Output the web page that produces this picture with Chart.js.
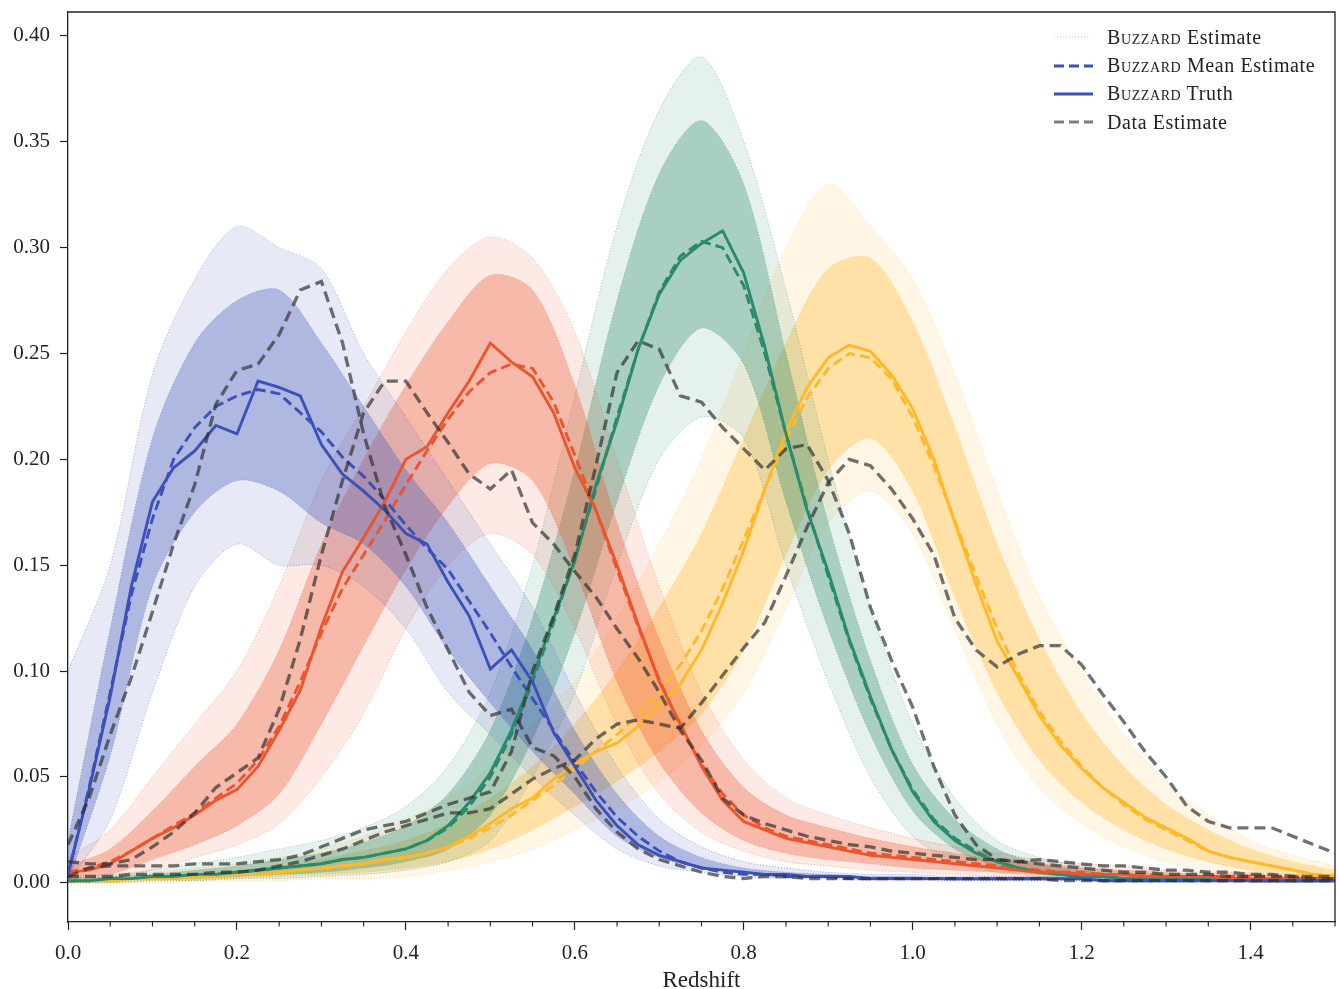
<!DOCTYPE html>
<html lang="en">
  <head>
    <meta charset="UTF-8" />
    <title>Redshift distributions</title>
    <script src="https://cdn.jsdelivr.net/npm/chart.js@4.4.0/dist/chart.umd.min.js"></script>
    <style>
      body {
        margin: 0;
        background: #fff;
        overflow: hidden;
        font-family: "Liberation Serif", serif;
      }
      #wrap {
        position: relative;
        width: 1339px;
        height: 989px;
      }
      #legend {
        position: absolute;
        left: 1052px;
        top: 23px;
        font-size: 20px;
        letter-spacing: 0.6px;
        color: #222;
      }
      .row {
        height: 28.4px;
        display: flex;
        align-items: center;
      }
      .row svg {
        width: 42px;
        height: 10px;
        margin-right: 13px;
      }
      .sc {
        font-variant: small-caps;
      }
    </style>
  </head>
  <body>
    <div id="wrap">
      <canvas id="c" width="1339" height="989"></canvas>
      <div id="legend">
        <div class="row">
          <svg><line x1="2" y1="5" x2="41" y2="5" stroke="rgba(60,80,185,0.35)" stroke-width="1" stroke-dasharray="1 2" /></svg>
          <span><span class="sc">Buzzard</span> Estimate</span>
        </div>
        <div class="row">
          <svg><line x1="2" y1="5" x2="41" y2="5" stroke="rgb(60,80,185)" stroke-width="3" stroke-dasharray="10 5" /></svg>
          <span><span class="sc">Buzzard</span> Mean Estimate</span>
        </div>
        <div class="row">
          <svg><line x1="2" y1="5" x2="41" y2="5" stroke="rgb(60,80,185)" stroke-width="3" /></svg>
          <span><span class="sc">Buzzard</span> Truth</span>
        </div>
        <div class="row">
          <svg><line x1="2" y1="5" x2="41" y2="5" stroke="rgba(45,45,45,0.62)" stroke-width="3" stroke-dasharray="10 5" /></svg>
          <span>Data Estimate</span>
        </div>
      </div>
    </div>

    <script>
      // redshift grid for the main curves (step 0.025)
      const zFine = [
        0, 0.025, 0.05, 0.075, 0.1, 0.125, 0.15, 0.175, 0.2, 0.225,
        0.25, 0.275, 0.3, 0.325, 0.35, 0.375, 0.4, 0.425, 0.45, 0.475,
        0.5, 0.525, 0.55, 0.575, 0.6, 0.625, 0.65, 0.675, 0.7, 0.725,
        0.75, 0.775, 0.8, 0.825, 0.85, 0.875, 0.9, 0.925, 0.95, 0.975,
        1.0, 1.025, 1.05, 1.075, 1.1, 1.125, 1.15, 1.175, 1.2, 1.225,
        1.25, 1.275, 1.3, 1.325, 1.35, 1.375, 1.4, 1.425, 1.45, 1.475,
        1.5,
      ];
      // coarser grid for the spread of the Buzzard estimates
      const zBand = [
        0, 0.05, 0.1, 0.15, 0.2, 0.25, 0.3, 0.35, 0.4, 0.45, 0.5, 0.55,
        0.6, 0.65, 0.7, 0.75, 0.8, 0.85, 0.9, 0.95, 1.0, 1.05, 1.1, 1.15,
        1.2, 1.25, 1.3, 1.35, 1.4, 1.45, 1.5,
      ];

      const xTicks = [0, 0.2, 0.4, 0.6, 0.8, 1.0, 1.2, 1.4];
      const xMinorTicks = [
        0.05, 0.1, 0.15, 0.25, 0.3, 0.35, 0.45, 0.5, 0.55, 0.65, 0.7, 0.75,
        0.85, 0.9, 0.95, 1.05, 1.1, 1.15, 1.25, 1.3, 1.35, 1.45, 1.5,
      ];
      const yTicks = [0, 0.05, 0.1, 0.15, 0.2, 0.25, 0.3, 0.35, 0.4];

      // truth
      const blueTruth = [
        0.004, 0.044, 0.088, 0.140, 0.180, 0.196, 0.204, 0.216, 0.212, 0.237,
        0.234, 0.230, 0.207, 0.193, 0.185, 0.176, 0.165, 0.160, 0.142, 0.126,
        0.101, 0.110, 0.095, 0.071, 0.055, 0.039, 0.027, 0.018, 0.013, 0.010,
        0.007, 0.006, 0.005, 0.004, 0.004, 0.003, 0.003, 0.003, 0.002, 0.002,
        0.002, 0.002, 0.002, 0.002, 0.002, 0.002, 0.002, 0.002, 0.002, 0.001,
        0.001, 0.001, 0.001, 0.001, 0.001, 0.001, 0.001, 0.001, 0.001, 0.001,
        0.001,
      ];
      const redTruth = [
        0.005, 0.006, 0.009, 0.015, 0.021, 0.026, 0.032, 0.039, 0.044, 0.055,
        0.072, 0.091, 0.121, 0.147, 0.163, 0.180, 0.200, 0.206, 0.222, 0.237,
        0.255, 0.246, 0.239, 0.222, 0.196, 0.176, 0.150, 0.122, 0.095, 0.075,
        0.055, 0.039, 0.029, 0.025, 0.021, 0.019, 0.017, 0.015, 0.013, 0.012,
        0.011, 0.010, 0.009, 0.008, 0.007, 0.006, 0.005, 0.005, 0.004, 0.004,
        0.004, 0.003, 0.003, 0.003, 0.003, 0.002, 0.002, 0.002, 0.002, 0.002,
        0.002,
      ];
      const greenTruth = [
        0.001, 0.001, 0.002, 0.002, 0.003, 0.003, 0.004, 0.004, 0.005, 0.006,
        0.007, 0.008, 0.009, 0.011, 0.012, 0.014, 0.016, 0.020, 0.027, 0.038,
        0.052, 0.072, 0.097, 0.125, 0.152, 0.188, 0.218, 0.252, 0.278, 0.294,
        0.302, 0.308, 0.288, 0.253, 0.212, 0.176, 0.147, 0.115, 0.088, 0.063,
        0.043, 0.029, 0.020, 0.014, 0.010, 0.007, 0.005, 0.004, 0.003, 0.003,
        0.002, 0.002, 0.002, 0.002, 0.002, 0.002, 0.001, 0.001, 0.001, 0.001,
        0.001,
      ];
      const yellowTruth = [
        0.001, 0.001, 0.001, 0.002, 0.002, 0.002, 0.003, 0.003, 0.004, 0.004,
        0.005, 0.006, 0.007, 0.008, 0.009, 0.011, 0.012, 0.014, 0.017, 0.022,
        0.028, 0.035, 0.040, 0.049, 0.056, 0.062, 0.066, 0.074, 0.084, 0.094,
        0.110, 0.132, 0.157, 0.186, 0.213, 0.234, 0.248, 0.254, 0.251, 0.240,
        0.224, 0.200, 0.170, 0.141, 0.114, 0.097, 0.079, 0.065, 0.054, 0.045,
        0.038, 0.031, 0.026, 0.021, 0.015, 0.012, 0.010, 0.008, 0.006, 0.004,
        0.003,
      ];

      // mean of the Buzzard estimates
      const blueMean = [
        0.004, 0.045, 0.090, 0.136, 0.172, 0.200, 0.215, 0.225, 0.230, 0.233,
        0.231, 0.222, 0.213, 0.201, 0.192, 0.181, 0.169, 0.158, 0.148, 0.133,
        0.118, 0.102, 0.087, 0.072, 0.057, 0.043, 0.031, 0.022, 0.015, 0.010,
        0.007, 0.005, 0.004, 0.004, 0.003, 0.003, 0.003, 0.002, 0.002, 0.002,
        0.002, 0.002, 0.002, 0.002, 0.002, 0.002, 0.002, 0.002, 0.002, 0.001,
        0.001, 0.001, 0.001, 0.001, 0.001, 0.001, 0.001, 0.001, 0.001, 0.001,
        0.001,
      ];
      const redMean = [
        0.005, 0.007, 0.010, 0.015, 0.021, 0.027, 0.033, 0.040, 0.047, 0.058,
        0.074, 0.095, 0.118, 0.139, 0.155, 0.171, 0.188, 0.204, 0.219, 0.232,
        0.241, 0.245, 0.243, 0.227, 0.202, 0.176, 0.148, 0.121, 0.096, 0.074,
        0.056, 0.042, 0.032, 0.026, 0.022, 0.020, 0.018, 0.016, 0.014, 0.013,
        0.012, 0.011, 0.010, 0.009, 0.008, 0.007, 0.006, 0.005, 0.005, 0.004,
        0.004, 0.004, 0.003, 0.003, 0.003, 0.003, 0.003, 0.002, 0.002, 0.002,
        0.002,
      ];
      const greenMean = [
        0.001, 0.001, 0.002, 0.002, 0.003, 0.003, 0.004, 0.004, 0.005, 0.006,
        0.007, 0.008, 0.009, 0.011, 0.012, 0.014, 0.016, 0.020, 0.026, 0.036,
        0.050, 0.070, 0.095, 0.123, 0.153, 0.186, 0.220, 0.252, 0.279, 0.296,
        0.303, 0.300, 0.282, 0.250, 0.212, 0.177, 0.145, 0.114, 0.087, 0.063,
        0.044, 0.030, 0.021, 0.015, 0.010, 0.007, 0.005, 0.004, 0.003, 0.003,
        0.002, 0.002, 0.002, 0.002, 0.002, 0.002, 0.001, 0.001, 0.001, 0.001,
        0.001,
      ];
      const yellowMean = [
        0.001, 0.001, 0.001, 0.002, 0.002, 0.002, 0.003, 0.003, 0.004, 0.004,
        0.005, 0.006, 0.007, 0.008, 0.009, 0.011, 0.012, 0.014, 0.017, 0.021,
        0.026, 0.032, 0.039, 0.046, 0.054, 0.062, 0.070, 0.079, 0.090, 0.103,
        0.119, 0.139, 0.162, 0.186, 0.209, 0.229, 0.243, 0.250, 0.248, 0.238,
        0.220, 0.197, 0.171, 0.145, 0.120, 0.099, 0.081, 0.067, 0.055, 0.045,
        0.037, 0.030, 0.025, 0.020, 0.015, 0.012, 0.010, 0.008, 0.006, 0.004,
        0.003,
      ];

      // data estimates, one per bin
      const dataBin1 = [
        0.018, 0.040, 0.070, 0.097, 0.128, 0.160, 0.188, 0.226, 0.242, 0.245,
        0.259, 0.280, 0.284, 0.255, 0.212, 0.178, 0.155, 0.130, 0.110, 0.090,
        0.079, 0.082, 0.064, 0.060, 0.050, 0.035, 0.024, 0.016, 0.011, 0.008,
        0.005, 0.003, 0.002, 0.003, 0.003, 0.002, 0.002, 0.002, 0.002, 0.002,
        0.002, 0.002, 0.002, 0.002, 0.002, 0.002, 0.002, 0.001, 0.001, 0.001,
        0.001, 0.001, 0.001, 0.001, 0.001, 0.001, 0.001, 0.001, 0.001, 0.001,
        0.001,
      ];
      const dataBin2 = [
        0.010, 0.009, 0.009, 0.011, 0.017, 0.024, 0.033, 0.045, 0.052, 0.059,
        0.082, 0.115, 0.155, 0.190, 0.222, 0.237, 0.237, 0.222, 0.208, 0.193,
        0.186, 0.195, 0.170, 0.160, 0.147, 0.135, 0.120, 0.106, 0.090, 0.072,
        0.058, 0.040, 0.032, 0.028, 0.025, 0.022, 0.020, 0.018, 0.017, 0.015,
        0.014, 0.013, 0.012, 0.011, 0.011, 0.010, 0.009, 0.008, 0.007, 0.006,
        0.005, 0.005, 0.004, 0.004, 0.004, 0.003, 0.003, 0.003, 0.003, 0.002,
        0.002,
      ];
      const dataBin3 = [
        0.003, 0.007, 0.008, 0.008, 0.008, 0.008, 0.009, 0.009, 0.009, 0.010,
        0.011, 0.013, 0.017, 0.021, 0.025, 0.027, 0.029, 0.033, 0.037, 0.040,
        0.043, 0.062, 0.100, 0.126, 0.155, 0.197, 0.241, 0.256, 0.252, 0.230,
        0.227, 0.215, 0.205, 0.195, 0.205, 0.207, 0.190, 0.165, 0.130, 0.105,
        0.083, 0.055, 0.032, 0.018, 0.011, 0.010, 0.011, 0.010, 0.009, 0.008,
        0.008, 0.007, 0.006, 0.006, 0.005, 0.005, 0.004, 0.004, 0.003, 0.003,
        0.003,
      ];
      const dataBin4 = [
        0.003, 0.003, 0.003, 0.004, 0.004, 0.004, 0.004, 0.005, 0.005, 0.006,
        0.008, 0.010, 0.013, 0.016, 0.020, 0.024, 0.027, 0.030, 0.033, 0.033,
        0.035, 0.042, 0.049, 0.054, 0.058, 0.068, 0.075, 0.077, 0.075, 0.073,
        0.085, 0.098, 0.111, 0.123, 0.145, 0.168, 0.189, 0.200, 0.197, 0.186,
        0.172, 0.155, 0.125, 0.110, 0.102, 0.108, 0.112, 0.112, 0.103, 0.089,
        0.076, 0.062, 0.050, 0.036, 0.029, 0.026, 0.026, 0.026, 0.022, 0.018,
        0.014,
      ];

      // spread of the individual Buzzard estimates: dense core and faint outliers
      const blueHi = [0.020, 0.120, 0.210, 0.255, 0.275, 0.280, 0.255, 0.225, 0.195, 0.170, 0.140, 0.110, 0.072, 0.042, 0.022, 0.012, 0.007, 0.005, 0.004, 0.003, 0.003, 0.002, 0.002, 0.002, 0.002, 0.002, 0.002, 0.002, 0.002, 0.002, 0.002];
      const blueLo = [0.000, 0.060, 0.140, 0.175, 0.190, 0.185, 0.170, 0.160, 0.140, 0.110, 0.085, 0.062, 0.042, 0.022, 0.012, 0.007, 0.005, 0.003, 0.003, 0.002, 0.002, 0.001, 0.001, 0.001, 0.001, 0.001, 0.001, 0.001, 0.001, 0.001, 0.001];
      const blueOutHi = [0.100, 0.150, 0.240, 0.285, 0.310, 0.300, 0.290, 0.250, 0.220, 0.190, 0.160, 0.130, 0.090, 0.055, 0.030, 0.017, 0.010, 0.007, 0.005, 0.004, 0.004, 0.003, 0.003, 0.003, 0.003, 0.002, 0.002, 0.002, 0.002, 0.002, 0.002];
      const blueOutLo = [0.000, 0.030, 0.090, 0.140, 0.160, 0.150, 0.150, 0.140, 0.120, 0.090, 0.070, 0.050, 0.032, 0.016, 0.008, 0.005, 0.003, 0.002, 0.002, 0.001, 0.001, 0.001, 0.001, 0.001, 0.001, 0.001, 0.001, 0.001, 0.001, 0.001, 0.001];

      const redHi = [0.008, 0.016, 0.034, 0.055, 0.075, 0.110, 0.160, 0.200, 0.235, 0.265, 0.287, 0.280, 0.235, 0.170, 0.115, 0.072, 0.045, 0.032, 0.026, 0.021, 0.017, 0.014, 0.011, 0.009, 0.007, 0.006, 0.005, 0.004, 0.004, 0.003, 0.003];
      const redLo = [0.002, 0.004, 0.011, 0.018, 0.027, 0.042, 0.075, 0.112, 0.148, 0.178, 0.198, 0.190, 0.148, 0.095, 0.057, 0.033, 0.020, 0.014, 0.011, 0.009, 0.007, 0.006, 0.005, 0.004, 0.003, 0.003, 0.002, 0.002, 0.002, 0.001, 0.001];
      const redOutHi = [0.012, 0.025, 0.050, 0.075, 0.100, 0.140, 0.190, 0.225, 0.260, 0.290, 0.305, 0.295, 0.260, 0.200, 0.140, 0.090, 0.058, 0.040, 0.032, 0.026, 0.021, 0.017, 0.014, 0.011, 0.009, 0.008, 0.006, 0.005, 0.005, 0.004, 0.004];
      const redOutLo = [0.000, 0.002, 0.006, 0.012, 0.018, 0.028, 0.050, 0.080, 0.120, 0.150, 0.165, 0.155, 0.120, 0.075, 0.042, 0.024, 0.015, 0.010, 0.008, 0.006, 0.005, 0.004, 0.003, 0.003, 0.002, 0.002, 0.001, 0.001, 0.001, 0.001, 0.001];

      const greenHi = [0.002, 0.003, 0.004, 0.006, 0.008, 0.011, 0.014, 0.019, 0.027, 0.042, 0.072, 0.125, 0.195, 0.275, 0.335, 0.360, 0.330, 0.250, 0.170, 0.105, 0.056, 0.030, 0.016, 0.009, 0.006, 0.004, 0.003, 0.002, 0.002, 0.002, 0.001];
      const greenLo = [0.000, 0.001, 0.002, 0.002, 0.003, 0.004, 0.005, 0.007, 0.010, 0.016, 0.032, 0.068, 0.118, 0.180, 0.235, 0.262, 0.245, 0.180, 0.120, 0.070, 0.034, 0.016, 0.008, 0.004, 0.003, 0.002, 0.001, 0.001, 0.001, 0.001, 0.001];
      const greenOutHi = [0.003, 0.004, 0.006, 0.009, 0.012, 0.016, 0.020, 0.026, 0.036, 0.055, 0.090, 0.150, 0.230, 0.310, 0.365, 0.390, 0.350, 0.280, 0.200, 0.130, 0.075, 0.040, 0.020, 0.012, 0.008, 0.005, 0.004, 0.003, 0.002, 0.002, 0.002];
      const greenOutLo = [0.000, 0.000, 0.001, 0.001, 0.002, 0.002, 0.003, 0.004, 0.006, 0.010, 0.020, 0.050, 0.090, 0.150, 0.200, 0.220, 0.210, 0.150, 0.095, 0.050, 0.022, 0.010, 0.005, 0.003, 0.002, 0.001, 0.001, 0.001, 0.001, 0.001, 0.001];

      const yellowHi = [0.001, 0.002, 0.003, 0.004, 0.006, 0.008, 0.011, 0.015, 0.020, 0.028, 0.040, 0.055, 0.075, 0.100, 0.130, 0.165, 0.210, 0.255, 0.290, 0.295, 0.265, 0.215, 0.160, 0.115, 0.080, 0.055, 0.037, 0.025, 0.016, 0.010, 0.006];
      const yellowLo = [0.000, 0.000, 0.001, 0.001, 0.002, 0.003, 0.004, 0.005, 0.007, 0.010, 0.016, 0.025, 0.036, 0.048, 0.062, 0.080, 0.110, 0.155, 0.195, 0.210, 0.185, 0.135, 0.090, 0.058, 0.038, 0.025, 0.016, 0.010, 0.006, 0.004, 0.002];
      const yellowOutHi = [0.002, 0.003, 0.005, 0.007, 0.009, 0.012, 0.016, 0.022, 0.030, 0.040, 0.055, 0.075, 0.095, 0.125, 0.160, 0.200, 0.250, 0.300, 0.330, 0.310, 0.285, 0.240, 0.185, 0.135, 0.100, 0.070, 0.048, 0.032, 0.020, 0.013, 0.008];
      const yellowOutLo = [0.000, 0.000, 0.000, 0.001, 0.001, 0.001, 0.002, 0.002, 0.003, 0.006, 0.010, 0.016, 0.025, 0.035, 0.048, 0.065, 0.090, 0.130, 0.170, 0.185, 0.165, 0.120, 0.075, 0.045, 0.028, 0.017, 0.010, 0.006, 0.004, 0.002, 0.001];

      const bins = [
        { rgb: "60, 80, 185", truth: blueTruth, mean: blueMean, data: dataBin1, hi: blueHi, lo: blueLo, outHi: blueOutHi, outLo: blueOutLo },
        { rgb: "235, 85, 45", truth: redTruth, mean: redMean, data: dataBin2, hi: redHi, lo: redLo, outHi: redOutHi, outLo: redOutLo },
        { rgb: "42, 138, 108", truth: greenTruth, mean: greenMean, data: dataBin3, hi: greenHi, lo: greenLo, outHi: greenOutHi, outLo: greenOutLo },
        { rgb: "255, 184, 40", truth: yellowTruth, mean: yellowMean, data: dataBin4, hi: yellowHi, lo: yellowLo, outHi: yellowOutHi, outLo: yellowOutLo },
      ];

      function pts(xs, ys) {
        return xs.map((x, i) => ({ x: x, y: ys[i] }));
      }

      function line(points, color, width, dash, fill, bg, smooth) {
        return {
          data: points,
          borderColor: color,
          borderWidth: width,
          borderDash: dash || [],
          pointRadius: 0,
          tension: smooth ? 0.3 : 0,
          fill: fill || false,
          backgroundColor: bg || "transparent",
        };
      }

      // first in the list is drawn on top
      const datasets = [];
      bins.forEach((b) => datasets.push(line(pts(zFine, b.data), "rgba(45, 45, 45, 0.68)", 3.3, [11, 6])));
      bins.forEach((b) => datasets.push(line(pts(zFine, b.truth), "rgb(" + b.rgb + ")", 2.9)));
      bins.forEach((b) => datasets.push(line(pts(zFine, b.mean), "rgb(" + b.rgb + ")", 2.9, [10, 5])));
      bins.forEach((b) => {
        const dot = "rgba(" + b.rgb + ", 0.45)";
        datasets.push(line(pts(zBand, b.hi), dot, 1, [1, 2], "+1", "rgba(" + b.rgb + ", 0.32)", true));
        datasets.push(line(pts(zBand, b.lo), dot, 1, [1, 2], false, null, true));
        datasets.push(line(pts(zBand, b.outHi), dot, 1, [1, 2], "+1", "rgba(" + b.rgb + ", 0.12)", true));
        datasets.push(line(pts(zBand, b.outLo), dot, 1, [1, 2], false, null, true));
      });

      const frame = {
        id: "frame",
        afterDraw(chart) {
          const ctx = chart.ctx;
          const a = chart.chartArea;
          const xs = chart.scales.x;
          ctx.save();
          ctx.strokeStyle = "#222";
          ctx.lineWidth = 1.3;
          ctx.beginPath();
          ctx.moveTo(a.left, a.top);
          ctx.lineTo(a.right, a.top);
          ctx.lineTo(a.right, a.bottom);
          ctx.stroke();
          ctx.lineWidth = 1.1;
          ctx.beginPath();
          xMinorTicks.forEach((v) => {
            const px = xs.getPixelForValue(v);
            ctx.moveTo(px, a.bottom);
            ctx.lineTo(px, a.bottom + 4.5);
          });
          ctx.stroke();
          ctx.restore();
        },
      };

      Chart.defaults.font.family = "'Liberation Serif', serif";
      Chart.defaults.color = "#222";

      new Chart(document.getElementById("c"), {
        type: "line",
        data: { datasets: datasets },
        options: {
          responsive: false,
          animation: false,
          devicePixelRatio: 1,
          layout: { padding: { top: 12, right: 4, left: 0, bottom: 0 } },
          plugins: {
            legend: { display: false },
            tooltip: { enabled: false },
          },
          scales: {
            x: {
              type: "linear",
              min: 0,
              max: 1.5,
              afterBuildTicks: (s) => {
                s.ticks = xTicks.map((v) => ({ value: v }));
              },
              afterFit: (s) => {
                s.height = 67;
                s.paddingLeft = 0;
                s.paddingRight = 0;
              },
              ticks: {
                autoSkip: false,
                maxRotation: 0,
                padding: 11,
                font: { size: 21 },
                callback: (v) => Number(v).toFixed(1),
              },
              grid: { drawOnChartArea: false, tickLength: 8, color: "#222", tickWidth: 1.2 },
              border: { color: "#222", width: 1.3 },
              title: {
                display: true,
                text: "Redshift",
                font: { size: 23 },
                padding: { top: 0, bottom: -6 },
              },
            },
            y: {
              type: "linear",
              min: -0.0185,
              max: 0.4113,
              afterBuildTicks: (s) => {
                s.ticks = yTicks.map((v) => ({ value: v }));
              },
              afterFit: (s) => {
                s.width = 68;
                s.paddingTop = 0;
                s.paddingBottom = 0;
              },
              ticks: {
                autoSkip: false,
                padding: 10,
                font: { size: 21 },
                callback: (v) => Number(v).toFixed(2),
              },
              grid: { drawOnChartArea: false, tickLength: 8, color: "#222", tickWidth: 1.2 },
              border: { color: "#222", width: 1.3 },
            },
          },
        },
        plugins: [frame],
      });
    </script>
  </body>
</html>
